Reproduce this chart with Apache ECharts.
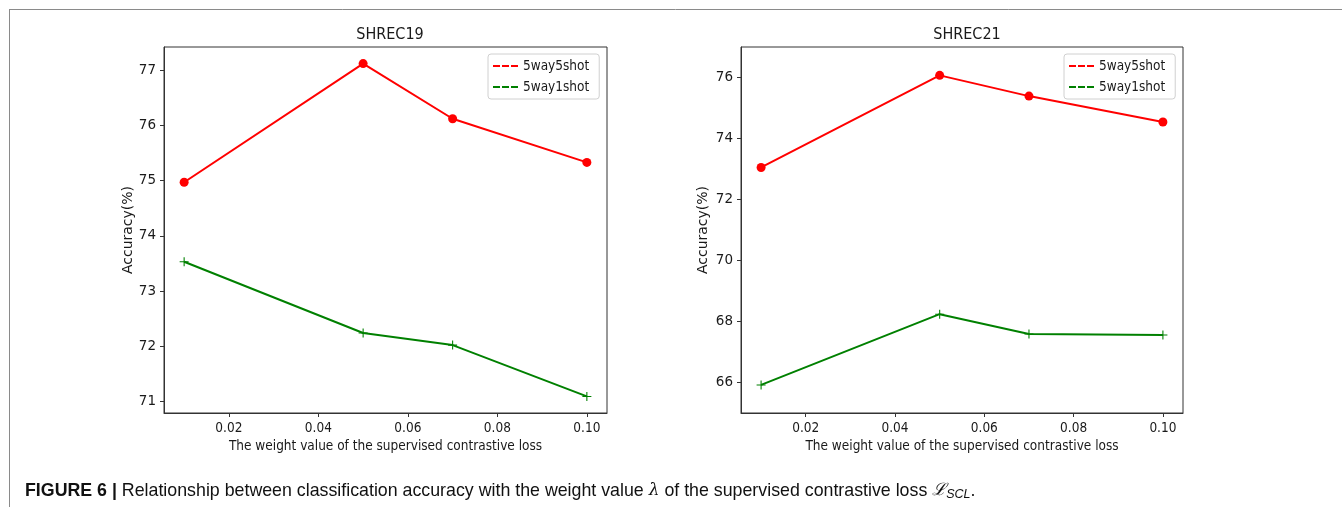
<!DOCTYPE html>
<html>
<head>
<meta charset="utf-8">
<script src="https://cdn.jsdelivr.net/npm/echarts@6/dist/echarts.min.js"></script>
<style>
html,body{margin:0;padding:0;background:#fff;}
#chart{width:1342px;height:517px;}
</style>
</head>
<body>
<div id="chart"></div>
<script>
// ---- data ----
const weights = [0.01, 0.05, 0.07, 0.10];
const xTicks = [0.02, 0.04, 0.06, 0.08, 0.10];
const shrec19_5way5shot = [74.97, 77.12, 76.12, 75.33];
const shrec19_5way1shot = [73.53, 72.24, 72.02, 71.09];
const shrec21_5way5shot = [73.05, 76.07, 75.39, 74.54];
const shrec21_5way1shot = [65.92, 68.24, 67.59, 67.56];
const yTicks19 = [71, 72, 73, 74, 75, 76, 77];
const yTicks21 = [66, 68, 70, 72, 74, 76];
const seriesNames = ['5way5shot', '5way1shot'];
const panelTitles = ['SHREC19', 'SHREC21'];

const pairs = (ys) => weights.map((w, i) => [w, ys[i]]);

const FONT = '"DejaVu Sans Condensed", "DejaVu Sans"';
const FONT_V = 'DejaVu Sans';
const TXT = '#1a1a1a';
const plusPath = 'path://M0,4.4h10v1.2h-10z M4.4,0h1.2v10h-1.2z';
const dashPath = 'path://M0,0h7v2h-7z M9,0h7v2h-7z M18,0h7v2h-7z';

const grids = [
  {left: 164, top: 47, width: 443, height: 366},
  {left: 741, top: 47, width: 442, height: 366}
];

function xAxis(gi) {
  return {
    type: 'value', gridIndex: gi, min: 0.0055, max: 0.1045,
    name: 'The weight value of the supervised contrastive loss',
    nameLocation: 'middle', nameGap: 25,
    nameTextStyle: {fontFamily: FONT, fontSize: 13.5, color: TXT},
    axisLine: {show: true, lineStyle: {color: '#333', width: 1}},
    axisTick: {show: true, length: 4, customValues: xTicks, lineStyle: {color: '#333'}},
    axisLabel: {customValues: xTicks, margin: 8, fontFamily: FONT, fontSize: 13.5, color: TXT,
      formatter: v => v.toFixed(2)},
    splitLine: {show: false}
  };
}
function yAxis(gi, min, max, ticks, gap) {
  return {
    type: 'value', gridIndex: gi, min: min, max: max,
    name: 'Accuracy(%)', nameLocation: 'middle', nameGap: gap,
    nameTextStyle: {fontFamily: FONT_V, fontSize: 14, color: TXT},
    axisLine: {show: true, lineStyle: {color: '#333', width: 1}},
    axisTick: {show: true, length: 4, customValues: ticks, lineStyle: {color: '#333'}},
    axisLabel: {customValues: ticks, margin: 8, fontFamily: FONT_V, fontSize: 13.5, color: TXT},
    splitLine: {show: false}
  };
}

function lineSeries(name, gi, ys, color, symbol, size) {
  return {
    name: name, type: 'line', xAxisIndex: gi, yAxisIndex: gi,
    data: pairs(ys), color: color,
    symbol: symbol, symbolSize: size, showSymbol: true,
    lineStyle: {width: 2, color: color},
    itemStyle: {color: color, borderWidth: 0},
    animation: false
  };
}

function legend(left) {
  return {
    data: seriesNames, orient: 'vertical', left: left, top: 54,
    icon: dashPath, itemWidth: 25, itemHeight: 14, itemGap: 7, itemTextGap: 10,
    padding: [5, 10, 5, 5],
    backgroundColor: '#fff', borderColor: '#d0d0d0', borderWidth: 1, borderRadius: 3,
    itemStyle: {borderWidth: 0},
    textStyle: {fontFamily: FONT, fontSize: 13.5, color: TXT},
    selectedMode: false
  };
}

const option = {
  backgroundColor: '#fff',
  animation: false,
  title: [
    {text: panelTitles[0], left: 385, top: 22, textAlign: 'center',
     textStyle: {fontFamily: FONT, fontSize: 16, fontWeight: 'normal', color: TXT}},
    {text: panelTitles[1], left: 962, top: 22, textAlign: 'center',
     textStyle: {fontFamily: FONT, fontSize: 16, fontWeight: 'normal', color: TXT}},
    {text: '{b|FIGURE 6 |} Relationship between classification accuracy with the weight value {i|λ} of the supervised contrastive loss {i|ℒ}{s|SCL}.',
     left: 20, top: 476,
     textStyle: {fontFamily: 'Liberation Sans', fontSize: 17.8, fontWeight: 'normal', color: '#111',
       rich: {
         b: {fontFamily: 'Liberation Sans', fontSize: 17.8, fontWeight: 'bold', color: '#111'},
         i: {fontFamily: 'DejaVu Serif', fontSize: 17, fontStyle: 'italic', color: '#111'},
         s: {fontFamily: 'Liberation Sans', fontSize: 12.5, fontStyle: 'italic', color: '#111', padding: [7, 0, 0, 0]}
       }}}
  ],
  grid: grids.map(g => Object.assign({show: true, borderColor: '#333', borderWidth: 1, backgroundColor: '#fff'}, g)),
  xAxis: [xAxis(0), xAxis(1)],
  yAxis: [yAxis(0, 70.79, 77.42, yTicks19, 29), yAxis(1, 65, 77, yTicks21, 31)],
  legend: [legend(488), legend(1064)],
  series: [
    lineSeries(seriesNames[0], 0, shrec19_5way5shot, '#ff0000', 'circle', 9),
    lineSeries(seriesNames[1], 0, shrec19_5way1shot, '#008000', plusPath, 9),
    lineSeries(seriesNames[0], 1, shrec21_5way5shot, '#ff0000', 'circle', 9),
    lineSeries(seriesNames[1], 1, shrec21_5way1shot, '#008000', plusPath, 9)
  ],
  graphic: [
    {type: 'line', shape: {x1: 9, y1: 9.5, x2: 1342, y2: 9.5}, style: {stroke: '#8a8a8a', lineWidth: 1}, silent: true},
    {type: 'line', shape: {x1: 9.5, y1: 9, x2: 9.5, y2: 507}, style: {stroke: '#8a8a8a', lineWidth: 1}, silent: true}
  ]
};

const chart = echarts.init(document.getElementById('chart'), null, {renderer: 'canvas'});
chart.setOption(option);
</script>
</body>
</html>
